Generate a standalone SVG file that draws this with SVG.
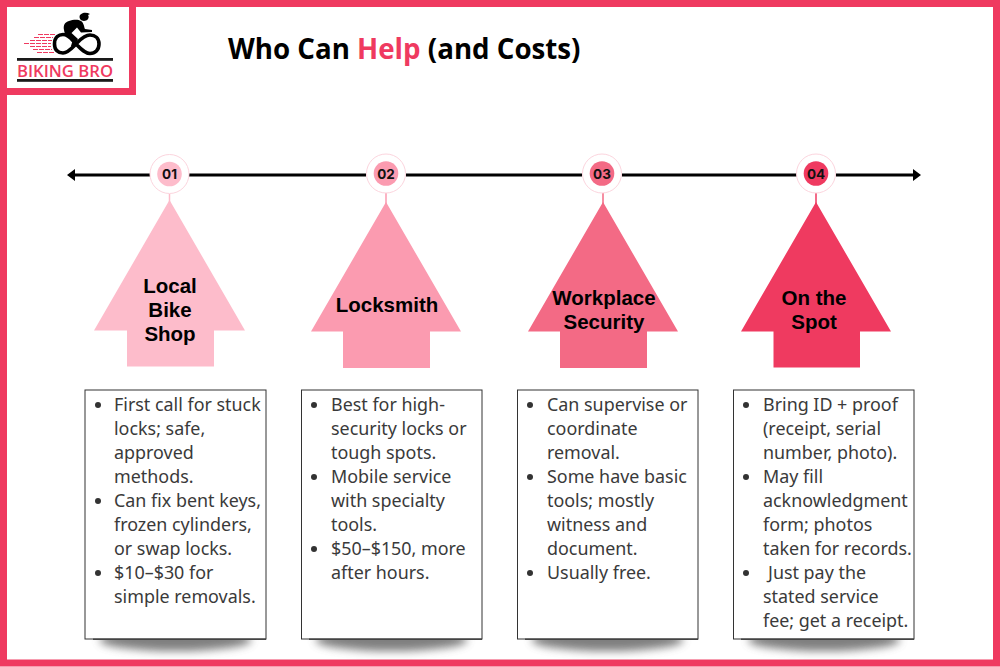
<svg xmlns="http://www.w3.org/2000/svg" width="1000" height="667" viewBox="0 0 1000 667">
<style>
.b{font-family:"Noto Sans","Liberation Sans",sans-serif;font-size:17.900px;fill:#3a3a3a}
.h{font-family:"Liberation Sans",Arimo,sans-serif;font-size:20.500px;font-weight:700;fill:#000;text-anchor:middle}
.n{font-family:"Inter","Liberation Sans",sans-serif;font-size:13.500px;font-weight:700;fill:#111;text-anchor:middle}
.box{fill:#fff;stroke:#333;stroke-width:1}
.ring{fill:#fff;stroke:#fcd5de;stroke-width:1}
.sh{fill:#555;opacity:.75;filter:url(#blur)}
.dot{fill:#333}
.edge{fill:#444}
</style>
<defs>
<filter id="blur" x="-20%" y="-100%" width="140%" height="300%"><feGaussianBlur stdDeviation="4.500"/></filter>
</defs>
<rect width="1000" height="667" fill="#fff"/>
<g id="shadows">
<ellipse class="sh" cx="175.500" cy="640" rx="76" ry="11"/>
<ellipse class="sh" cx="391.500" cy="640" rx="76" ry="11"/>
<ellipse class="sh" cx="607.500" cy="640" rx="76" ry="11"/>
<ellipse class="sh" cx="824" cy="640" rx="76" ry="11"/>
</g>
<rect x="3.500" y="3.500" width="993" height="659.500" fill="none" stroke="#ef3a60" stroke-width="7"/>
<g id="logo">
<rect x="3.500" y="3.500" width="129" height="88" fill="#fff" stroke="#ef3a60" stroke-width="7"/>
<path d="M38 34.500H55M34 37.500H53M30 40.500H52M24 43.500H51M30 46.500H51M33 49.500H52M37 52.500H54" fill="none" stroke="#ef3a60" stroke-width="1.200" stroke-dasharray="5 1"/>
<path d="M54.500 44C54.500 37 59 34.500 63 34.500C69 34.500 72 40 76 44C81 49 85 53.500 90 53.500C95 53.500 99 50 99 44C99 38 95 35 90 35C84 35 80 40 76 44C72 48 68 53 63 53C58 53 54.500 50 54.500 44Z" fill="none" stroke="#000" stroke-width="3.600"/>
<path d="M64 30C63 25 65 22 69 21C73 19.500 78 19 81 21C84 23 84 27 85 29L92 30V32L81 32.500L77 27.500L71.500 33L78 39L74 47L71 46L72.500 41L65 35Z" fill="#000"/>
<path d="M80 15C83 12 87 12.500 90 14L88 15C90 18 87 21 84 21C81 21 78.500 18 80 15Z" fill="#000"/>
<rect x="17" y="58" width="96" height="2.800" fill="#1a1a1a"/>
<text x="17" y="76.500" textLength="96" lengthAdjust="spacingAndGlyphs" font-family="'Open Sans','Liberation Sans',sans-serif" font-size="16.500" font-weight="600" fill="#ef3a60">BIKING BRO</text>
<rect x="17" y="79" width="96" height="2.800" fill="#1a1a1a"/>
</g>
<text id="title" x="228" y="59" font-family="'Open Sans','Liberation Sans',sans-serif" font-size="27.700" font-weight="700" fill="#000">Who Can <tspan fill="#ef3a60">Help</tspan> (and Costs)</text>
<g id="connectors">
<path d="M72 175H150M189 175H366M406 175H582M622 175H797M836 175H915" stroke="#000" stroke-width="3" fill="none"/>
<path d="M67 175L75 169V181Z M921 175L913 169V181Z" fill="#000"/>
<path d="M169.500 194V202" stroke="#fdbccb" stroke-width="1.500"/><path d="M386 193V204" stroke="#fb9bb0" stroke-width="1.500"/><path d="M603 193V204" stroke="#f36a85" stroke-width="1.500"/><path d="M816 193V204" stroke="#ef3a60" stroke-width="1.500"/>
</g>
<g id="node-1">
<circle class="ring" cx="169.500" cy="174" r="19.500"/><circle cx="169.500" cy="174" r="12.300" fill="#fdbccb"/><text class="n" x="169.500" y="179">01</text>
<path d="M169.500 200L245 330.500H214V366.500H127V330.500H94Z" fill="#fdbccb"/>
<text class="h" x="170" y="293">Local</text><text class="h" x="170" y="317">Bike</text><text class="h" x="170" y="341">Shop</text>
<rect class="box" x="85" y="390" width="181" height="249"/>
<rect class="edge" x="93" y="638.500" width="173" height="1.500"/>
<circle class="dot" cx="98" cy="405" r="3"/><circle class="dot" cx="98" cy="501" r="3"/><circle class="dot" cx="98" cy="573" r="3"/>
<text class="b"><tspan x="114" y="411">First call for stuck</tspan><tspan x="114" y="435">locks; safe,</tspan><tspan x="114" y="459">approved</tspan><tspan x="114" y="483">methods.</tspan><tspan x="114" y="507">Can fix bent keys,</tspan><tspan x="114" y="531">frozen cylinders,</tspan><tspan x="114" y="555">or swap locks.</tspan><tspan x="114" y="579">$10–$30 for</tspan><tspan x="114" y="603">simple removals.</tspan></text>
</g>
<g id="node-2">
<circle class="ring" cx="386" cy="173.500" r="19.500"/><circle cx="386" cy="173.500" r="12.300" fill="#fb9bb0"/><text class="n" x="386" y="178.500">02</text>
<path d="M386 202L461 331.500H430V368H343V331.500H311Z" fill="#fb9bb0"/>
<text class="h" x="387" y="312">Locksmith</text>
<rect class="box" x="301.500" y="390" width="180.500" height="249"/>
<rect class="edge" x="309" y="638.500" width="173" height="1.500"/>
<circle class="dot" cx="314" cy="405" r="3"/><circle class="dot" cx="314" cy="477" r="3"/><circle class="dot" cx="314" cy="549" r="3"/>
<text class="b"><tspan x="331" y="411">Best for high-</tspan><tspan x="331" y="435">security locks or</tspan><tspan x="331" y="459">tough spots.</tspan><tspan x="331" y="483">Mobile service</tspan><tspan x="331" y="507">with specialty</tspan><tspan x="331" y="531">tools.</tspan><tspan x="331" y="555">$50–$150, more</tspan><tspan x="331" y="579">after hours.</tspan></text>
</g>
<g id="node-3">
<circle class="ring" cx="602" cy="173.500" r="19.500"/><circle cx="602" cy="173.500" r="12.300" fill="#f36a85"/><text class="n" x="602" y="178.500">03</text>
<path d="M603 202L678 331.500H647V368H560V331.500H528Z" fill="#f36a85"/>
<text class="h" x="604" y="305">Workplace</text><text class="h" x="604" y="329">Security</text>
<rect class="box" x="517.500" y="390" width="180.500" height="249"/>
<rect class="edge" x="525" y="638.500" width="173" height="1.500"/>
<circle class="dot" cx="530" cy="405" r="3"/><circle class="dot" cx="530" cy="477" r="3"/><circle class="dot" cx="530" cy="573" r="3"/>
<text class="b"><tspan x="547" y="411">Can supervise or</tspan><tspan x="547" y="435">coordinate</tspan><tspan x="547" y="459">removal.</tspan><tspan x="547" y="483">Some have basic</tspan><tspan x="547" y="507">tools; mostly</tspan><tspan x="547" y="531">witness and</tspan><tspan x="547" y="555">document.</tspan><tspan x="547" y="579">Usually free.</tspan></text>
</g>
<g id="node-4">
<circle class="ring" cx="816" cy="173.500" r="19.500"/><circle cx="816" cy="173.500" r="12.300" fill="#ef3a60"/><text class="n" x="816" y="178.500">04</text>
<path d="M816 202L891 331.500H860V367.500H773.500V331.500H741Z" fill="#ef3a60"/>
<text class="h" x="814" y="305">On the</text><text class="h" x="814" y="329">Spot</text>
<rect class="box" x="733.500" y="390" width="180.500" height="249"/>
<rect class="edge" x="741" y="638.500" width="173" height="1.500"/>
<circle class="dot" cx="746" cy="405" r="3"/><circle class="dot" cx="746" cy="477" r="3"/><circle class="dot" cx="746" cy="573" r="3"/>
<text class="b"><tspan x="763" y="411">Bring ID + proof</tspan><tspan x="763" y="435">(receipt, serial</tspan><tspan x="763" y="459">number, photo).</tspan><tspan x="763" y="483">May fill</tspan><tspan x="763" y="507">acknowledgment</tspan><tspan x="763" y="531">form; photos</tspan><tspan x="763" y="555">taken for records.</tspan><tspan x="768" y="579">Just pay the</tspan><tspan x="763" y="603">stated service</tspan><tspan x="763" y="627">fee; get a receipt.</tspan></text>
</g>
</svg>
